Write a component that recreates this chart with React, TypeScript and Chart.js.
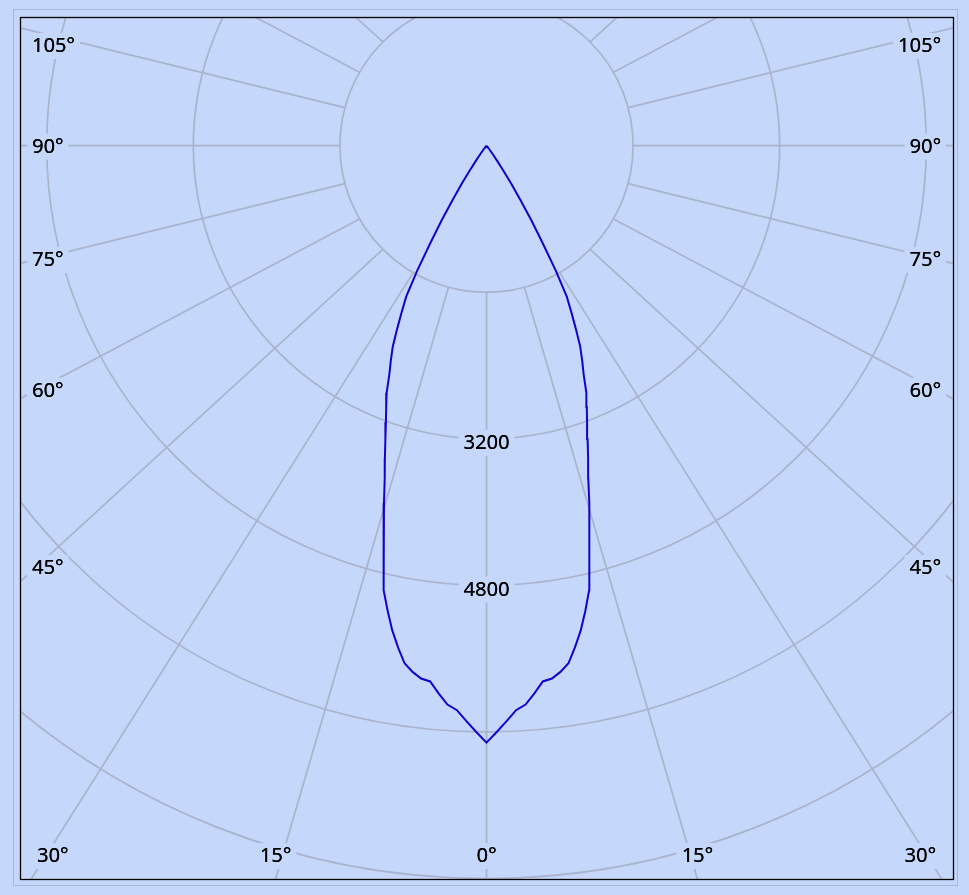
import React, { useEffect, useRef } from "react";
import { Chart, registerables } from "chart.js";

Chart.register(...registerables);

// ---- data ----
// polar angles (degrees from nadir)
const angles = [
  0, 1, 2, 3, 4, 5, 6, 7, 8, 9,
  10, 11, 12, 13, 14, 15, 16, 17, 18, 19,
  20, 21, 22, 23, 24, 25, 26, 27, 28, 29,
  30, 31, 32, 33, 34, 35, 36, 37, 38, 39,
  40, 45, 90,
];
// luminous intensity (cd), right half (C0)
const intensityC0 = [
  6516, 6400, 6285, 6170, 6115, 6000, 5880, 5860, 5800, 5720,
  5560, 5390, 5190, 4980, 4660, 4330, 4060, 3800, 3590, 3390,
  3210, 3055, 2910, 2715, 2568, 2421, 2225, 2040, 1867, 1560,
  1220, 950, 690, 500, 330, 200, 120, 70, 40, 20,
  10, 0, 0,
];
// luminous intensity (cd), left half (C180)
const intensityC180 = [
  6516, 6400, 6285, 6170, 6115, 6000, 5880, 5860, 5800, 5720,
  5560, 5390, 5190, 4980, 4660, 4330, 4060, 3800, 3590, 3390,
  3210, 3055, 2910, 2715, 2568, 2421, 2225, 2040, 1867, 1560,
  1220, 950, 690, 500, 330, 200, 120, 70, 40, 20,
  10, 0, 0,
];
// rings (cd)
const ringValues = [1600, 3200, 4800, 6400, 8000, 9600, 11200, 12800];
const ringLabelValues = [3200, 4800];
// spokes (degrees)
const spokeAngles = [0, 15, 30, 45, 60, 75, 90, 105, 120, 135, 150, 165, 180];
const spokeLabels = spokeAngles.map((a) => `${a}°`);

const BG = "#c5d8fb";
const GRID = "#a9b3cb";
const CURVE = "#1600cc";
const FONT = "20px 'Noto Sans', 'Liberation Sans', sans-serif";

const toRad = (d: number) => (d * Math.PI) / 180;

function buildPoints() {
  const pts: { x: number; y: number }[] = [];
  for (let i = angles.length - 1; i >= 0; i--) {
    const t = toRad(angles[i]);
    const I = intensityC180[i];
    pts.push({ x: -I * Math.sin(t), y: -I * Math.cos(t) });
  }
  for (let i = 1; i < angles.length; i++) {
    const t = toRad(angles[i]);
    const I = intensityC0[i];
    pts.push({ x: I * Math.sin(t), y: -I * Math.cos(t) });
  }
  return pts;
}

const polarPlugin = {
  id: "polarGrid",
  beforeDraw(chart: any) {
    const { ctx, width, height, chartArea: ca } = chart;
    ctx.save();
    ctx.fillStyle = BG;
    ctx.fillRect(0, 0, width, height);
    ctx.strokeStyle = "#a9b7d6";
    ctx.lineWidth = 1;
    ctx.strokeRect(ca.left - 6.5, ca.top - 7.5, ca.right - ca.left + 11, ca.bottom - ca.top + 14);
    ctx.restore();
  },
  beforeDatasetsDraw(chart: any) {
    const { ctx, chartArea: ca, scales } = chart;
    const xs = scales.x;
    const ys = scales.y;
    const px = (v: number) => xs.getPixelForValue(v);
    const py = (v: number) => ys.getPixelForValue(v);
    const cx = px(0);
    const cy = py(0);
    const rad = (v: number) => px(v) - cx;

    ctx.save();
    ctx.beginPath();
    ctx.rect(ca.left, ca.top, ca.right - ca.left, ca.bottom - ca.top);
    ctx.clip();

    ctx.strokeStyle = GRID;
    ctx.lineWidth = 1.7;
    for (const v of ringValues) {
      ctx.beginPath();
      ctx.arc(cx, cy, rad(v), 0, Math.PI * 2);
      ctx.stroke();
    }

    const inner = ringValues[0];
    const q = 0.92;
    const qLabel = 0.95;
    const far = 40000;
    const labels: any[] = [];
    spokeAngles.forEach((a, idx) => {
      const sides = a === 0 || a === 180 ? [1] : [-1, 1];
      for (const s of sides) {
        const t = toRad(a);
        const p1 = { x: px(s * inner * Math.sin(t)), y: py(-inner * Math.cos(t)) };
        const p2 = { x: px(s * far * Math.sin(t)), y: py(-far * q * Math.cos(t)) };
        const p3 = { x: px(s * far * Math.sin(t)), y: py(-far * qLabel * Math.cos(t)) };
        ctx.beginPath();
        ctx.moveTo(p1.x, p1.y);
        ctx.lineTo(p2.x, p2.y);
        ctx.stroke();
        const dx = p2.x - p1.x;
        const dy = p2.y - p1.y;
        let best = Infinity;
        let edge = "";
        if (dx < -1e-6) { const tt = (ca.left - p1.x) / dx; if (tt < best) { best = tt; edge = "left"; } }
        if (dx > 1e-6) { const tt = (ca.right - p1.x) / dx; if (tt < best) { best = tt; edge = "right"; } }
        if (dy > 1e-6) { const tt = (ca.bottom - p1.y) / dy; if (tt < best) { best = tt; edge = "bottom"; } }
        if (dy < -1e-6) { const tt = (ca.top - p1.y) / dy; if (tt < best) { best = tt; edge = "top"; } }
        if (edge && edge !== "top")
          labels.push({ text: spokeLabels[idx], edge, p1, dx, dy, ldx: p3.x - p1.x, ldy: p3.y - p1.y });
      }
    });
    ctx.restore();

    // labels
    ctx.save();
    ctx.font = FONT;
    ctx.textBaseline = "alphabetic";
    ctx.textAlign = "left";
    const drawLabel = (text: string, left: number, cyL: number) => {
      const w = ctx.measureText(text).width;
      ctx.fillStyle = BG;
      ctx.fillRect(left - 5, cyL - 12, w + 10, 26);
      ctx.fillStyle = "#000";
      ctx.fillText(text, left, cyL + 7.2);
      ctx.fillText(text, left + 0.2, cyL + 7.2);
    };
    const topY = ca.top + 28;
    const botY = ca.bottom - 24;
    for (const L of labels) {
      const w = ctx.measureText(L.text).width;
      if (L.edge === "left" || L.edge === "right") {
        const left = L.edge === "left" ? ca.left + 12 : ca.right - 12 - w;
        const xc = left + w / 2;
        let y = L.p1.y + ((xc - L.p1.x) * L.ldy) / L.ldx;
        y = Math.min(Math.max(y, topY), botY);
        drawLabel(L.text, left, y);
      } else {
        let x = L.p1.x + ((ca.bottom - L.p1.y) * L.dx) / L.dy;
        x = Math.min(Math.max(x, ca.left + 17 + w / 2), ca.right - 17 - w / 2);
        drawLabel(L.text, x - w / 2, botY);
      }
    }
    for (const v of ringLabelValues) {
      const text = String(v);
      const w = ctx.measureText(text).width;
      drawLabel(text, cx - w / 2, py(-v) + 3);
    }
    ctx.restore();
  },
  afterDraw(chart: any) {
    const { ctx, chartArea: ca } = chart;
    ctx.save();
    ctx.strokeStyle = "#000";
    ctx.lineWidth = 1.3;
    ctx.strokeRect(ca.left + 0.5, ca.top + 0.5, ca.right - ca.left, ca.bottom - ca.top);
    ctx.restore();
  },
};

export default function App() {
  const ref = useRef<HTMLCanvasElement>(null);
  useEffect(() => {
    document.body.style.margin = "0";
    document.body.style.background = BG;
    const chart = new Chart(ref.current as HTMLCanvasElement, {
      type: "scatter",
      data: {
        datasets: [
          {
            data: buildPoints(),
            showLine: true,
            borderColor: CURVE,
            borderWidth: 2,
            pointRadius: 0,
            tension: 0,
            fill: false,
          },
        ],
      },
      options: {
        responsive: false,
        animation: false,
        devicePixelRatio: 1,
        layout: { padding: { left: 20, top: 17, right: 16, bottom: 16 } },
        plugins: { legend: { display: false }, tooltip: { enabled: false } },
        scales: {
          x: { type: "linear", min: -5092, max: 5092, display: false },
          y: { type: "linear", min: -8004, max: 1404, display: false },
        },
      },
      plugins: [polarPlugin],
    } as any);
    return () => chart.destroy();
  }, []);
  return (
    <canvas
      ref={ref}
      width={969}
      height={895}
      style={{ display: "block", width: "969px", height: "895px" }}
    />
  );
}
